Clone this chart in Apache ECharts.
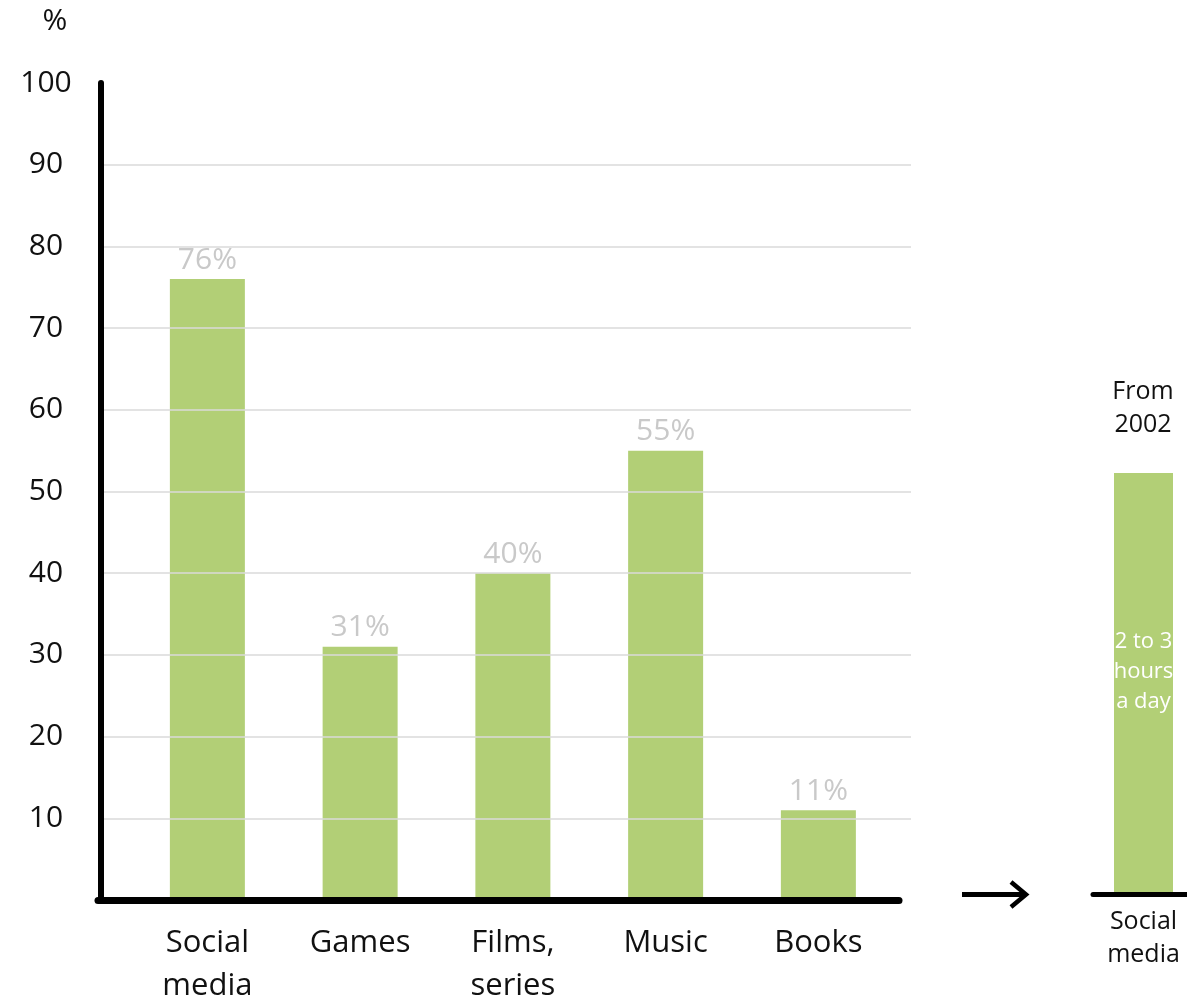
<!DOCTYPE html>
<html>
<head>
<meta charset="utf-8">
<title>Time spent on media</title>
<script src="https://cdn.jsdelivr.net/npm/echarts@6/dist/echarts.min.js"></script>
<style>
  html, body { margin: 0; padding: 0; background: #fff; }
  #chart { width: 1187px; height: 1001px; }
</style>
</head>
<body>
<div id="chart"></div>
<script>
// Main chart: share of respondents per activity (%)
const categories = ['Social\nmedia', 'Games', 'Films,\nseries', 'Music', 'Books'];
const shares = [76, 31, 40, 55, 11];

// Value axis range and step
const yMin = 0;
const yMax = 100;
const yStep = 10;

// Side panel: social media since 2002
const sideCategory = ['Social\nmedia'];
const sideValues = [51.6];
const sideCaption = 'From\n2002';
const sideNote = '2 to 3\nhours\na day';
const unitLabel = '%';

const GREEN = '#b2cf76';
const FONT = 'Open Sans';

const chart = echarts.init(document.getElementById('chart'));

// fixed plot rectangles; labels may sit outside them
const fixedGrid = r => Object.assign({ outerBoundsMode: 'none', containLabel: false }, r);

const option = {
  animation: false,
  backgroundColor: '#ffffff',
  textStyle: { fontFamily: FONT },
  grid: [
    fixedGrid({ left: 131, right: 292.25, top: 83, bottom: 101 }),   // bars
    fixedGrid({ left: 104, right: 276, top: 83, bottom: 101 }),      // horizontal guide lines
    fixedGrid({ left: 98, right: 288, top: 83, bottom: 101 }),       // baseline
    fixedGrid({ left: 1093, right: -7, top: 77.5, bottom: 106.5 })   // side panel
  ],
  xAxis: [
    {
      gridIndex: 0, type: 'category', data: categories,
      axisLine: { show: false }, axisTick: { show: false },
      axisLabel: { fontSize: 31, color: '#111', lineHeight: 43, margin: 22, fontFamily: FONT }
    },
    { gridIndex: 1, type: 'value', min: 0, max: 1, show: false },
    {
      gridIndex: 2, type: 'value', min: 0, max: 1, z: 6,
      axisLine: { show: true, lineStyle: { color: '#000', width: 7 } },
      axisTick: { show: false }, axisLabel: { show: false }, splitLine: { show: false }
    },
    {
      gridIndex: 3, type: 'category', data: sideCategory, z: 6,
      axisLine: { show: true, lineStyle: { color: '#000', width: 5 } },
      axisTick: { show: false },
      axisLabel: { fontSize: 25, lineHeight: 33, color: '#111', margin: 11, fontFamily: FONT }
    }
  ],
  yAxis: [
    {
      gridIndex: 0, type: 'value', min: yMin, max: yMax, interval: yStep, offset: 30,
      axisLine: { show: true, lineStyle: { color: '#000', width: 6 } },
      axisTick: { show: false }, splitLine: { show: false },
      axisLabel: {
        fontSize: 30, color: '#111', align: 'center', margin: 55, fontFamily: FONT,
        formatter: v => (v === 0 ? '' : String(v))
      }
    },
    {
      gridIndex: 1, type: 'value', min: yMin, max: yMax, interval: yStep, z: 5,
      axisLine: { show: false }, axisTick: { show: false }, axisLabel: { show: false },
      splitLine: {
        show: true, showMinLine: false, showMaxLine: false,
        lineStyle: { color: '#dadada', width: 1.5 }
      }
    },
    { gridIndex: 2, type: 'value', min: 0, max: 1, show: false },
    { gridIndex: 3, type: 'value', min: yMin, max: yMax, show: false }
  ],
  series: [
    {
      type: 'bar', xAxisIndex: 0, yAxisIndex: 0, data: shares, barWidth: 75,
      itemStyle: { color: GREEN },
      label: {
        show: true, position: 'top', distance: 4, formatter: '{c}%',
        fontSize: 30, color: '#c9c9c9', fontFamily: FONT
      }
    },
    {
      type: 'bar', xAxisIndex: 3, yAxisIndex: 3, data: sideValues, barWidth: 59,
      itemStyle: { color: GREEN },
      label: {
        show: true, position: 'inside', offset: [0, -12], formatter: sideNote,
        fontSize: 22, lineHeight: 30, color: '#ffffff', fontFamily: FONT
      }
    }
  ],
  graphic: [
    {
      type: 'text', x: 55, y: 21,
      style: { text: unitLabel, fontSize: 30, fontFamily: FONT, fill: '#111', align: 'center', verticalAlign: 'middle' }
    },
    {
      type: 'text', x: 1143, y: 408,
      style: { text: sideCaption, fontSize: 25, lineHeight: 33, fontFamily: FONT, fill: '#111', align: 'center', verticalAlign: 'middle' }
    },
    // arrow pointing to the side panel
    {
      type: 'line', shape: { x1: 962, y1: 894.5, x2: 1024, y2: 894.5 },
      style: { stroke: '#000', lineWidth: 5 }
    },
    {
      type: 'polyline', shape: { points: [[1011, 882], [1026, 894.5], [1011, 907]] },
      style: { stroke: '#000', lineWidth: 4.5, fill: null }
    }
  ]
};

chart.setOption(option);
</script>
</body>
</html>
